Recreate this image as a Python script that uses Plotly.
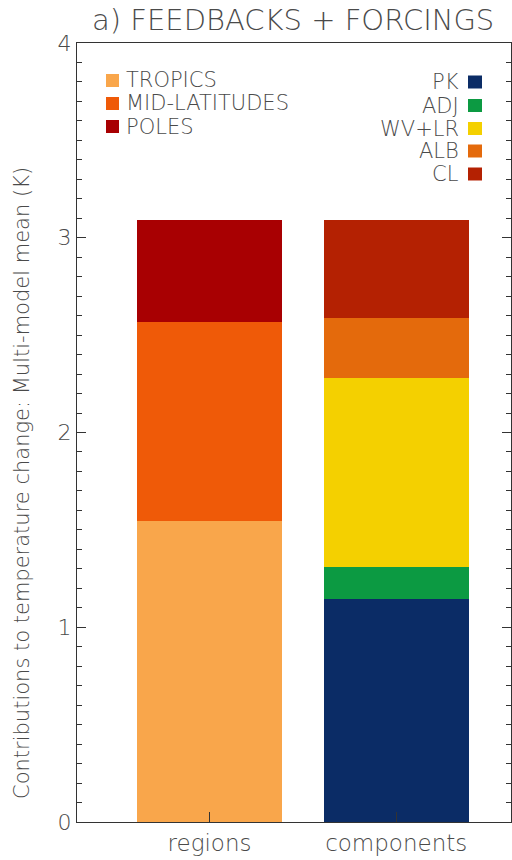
import plotly.graph_objects as go

# Stacked contributions (K) to the multi-model mean temperature change
regions = ["TROPICS", "MID-LATITUDES", "POLES"]
region_values = [1.545, 1.02, 0.525]
region_colors = ["#F9A64B", "#EF5A08", "#A80002"]

components = ["PK", "ADJ", "WV+LR", "ALB", "CL"]
component_values = [1.145, 0.165, 0.97, 0.31, 0.50]
component_colors = ["#0B2C66", "#0C9A42", "#F4D000", "#E46A0C", "#B42102"]

categories = ["regions", "components"]
y_ticks = [0, 1, 2, 3, 4]

FONT = "DejaVu Sans"
WT = 200
TXT = "#4a4a4a"
AX = "#333333"

W, H = 512, 860
L, R, T, B = 77, 1, 43, 38
PW, PH = W - L - R, H - T - B


def px_to_paper(px, py):
    return (px - L) / PW, (H - B - py) / PH


fig = go.Figure()
for name, val, col in zip(regions, region_values, region_colors):
    fig.add_bar(x=[categories[0]], y=[val], name=name, marker_color=col,
                marker_line_width=0, width=0.775, showlegend=False)
for name, val, col in zip(components, component_values, component_colors):
    fig.add_bar(x=[categories[1]], y=[val], name=name, marker_color=col,
                marker_line_width=0, width=0.775, showlegend=False)

shapes = []
annotations = []

# Left key: square then label
left_rows = [80.5, 103.5, 126.5]
for name, col, py in zip(regions, region_colors, left_rows):
    x0, y0 = px_to_paper(106, py + 6.5)
    x1, y1 = px_to_paper(119, py - 6.5)
    shapes.append(dict(type="rect", xref="paper", yref="paper", x0=x0, x1=x1,
                       y0=y0, y1=y1, fillcolor=col, line_width=0))
    tx, ty = px_to_paper(124, py)
    annotations.append(dict(text=name, xref="paper", yref="paper", x=tx, y=ty,
                            xanchor="left", yanchor="middle", showarrow=False,
                            font=dict(family=FONT, size=21, color=TXT, weight=WT)))

# Right key: label then square, top entry is the bottom segment
right_rows = [82, 105.5, 128.5, 151, 174]
for name, col, py in zip(components, component_colors, right_rows):
    x0, y0 = px_to_paper(468, py + 6.5)
    x1, y1 = px_to_paper(482, py - 6.5)
    shapes.append(dict(type="rect", xref="paper", yref="paper", x0=x0, x1=x1,
                       y0=y0, y1=y1, fillcolor=col, line_width=0))
    tx, ty = px_to_paper(461, py)
    annotations.append(dict(text=name, xref="paper", yref="paper", x=tx, y=ty,
                            xanchor="right", yanchor="middle", showarrow=False,
                            font=dict(family=FONT, size=21, color=TXT, weight=WT)))

# Panel title
tx, ty = px_to_paper(293, 20)
annotations.append(dict(text="a) FEEDBACKS + FORCINGS", xref="paper", yref="paper",
                        x=tx, y=ty, xanchor="center", yanchor="middle", showarrow=False,
                        font=dict(family=FONT, size=29, color=TXT, weight=WT)))

# Vertical axis title
tx, ty = px_to_paper(22, 483)
annotations.append(dict(text="Contributions to temperature change: Multi-model mean (K)",
                        xref="paper", yref="paper", x=tx, y=ty, textangle=-90,
                        xanchor="center", yanchor="middle", showarrow=False,
                        font=dict(family=FONT, size=21, color=TXT, weight=WT)))

fig.update_layout(
    width=W, height=H,
    margin=dict(l=L, r=R, t=T, b=B, pad=0),
    barmode="stack",
    plot_bgcolor="white", paper_bgcolor="white",
    shapes=shapes, annotations=annotations,
    font=dict(family=FONT, color=TXT),
)
fig.update_xaxes(
    type="category", categoryorder="array", categoryarray=categories,
    range=[-0.71, 1.615],
    showline=True, linecolor=AX, linewidth=1, mirror=True,
    ticks="inside", ticklen=10, tickcolor=AX, tickwidth=1,
    tickfont=dict(family=FONT, size=23, color=TXT, weight=WT),
    showgrid=False, zeroline=False,
)
fig.update_yaxes(
    range=[0, 4], tickvals=y_ticks, ticktext=[str(v) for v in y_ticks],
    showline=True, linecolor=AX, linewidth=1, mirror="ticks",
    ticks="inside", ticklen=9, tickcolor=AX, tickwidth=1,
    minor=dict(dtick=0.1, ticks="inside", ticklen=5, tickcolor=AX, showgrid=False),
    tickfont=dict(family=FONT, size=22, color=TXT, weight=WT),
    showgrid=False, zeroline=False,
)

fig.write_html("out.html")
